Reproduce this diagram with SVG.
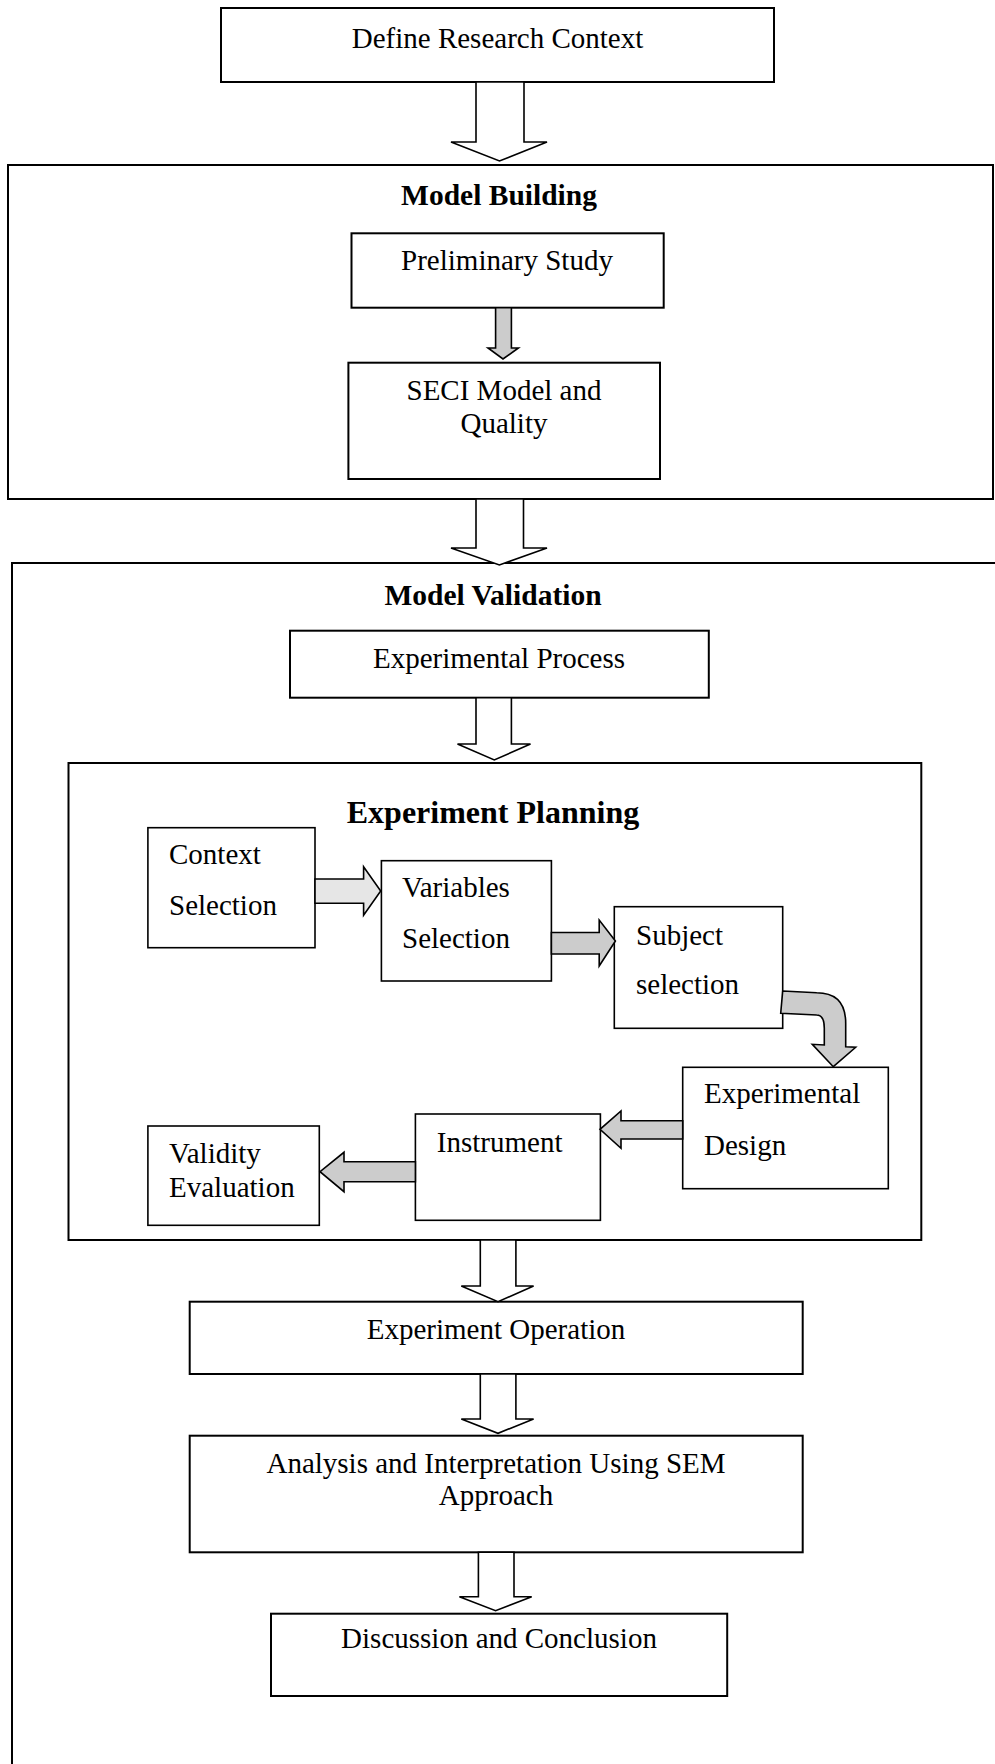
<svg xmlns="http://www.w3.org/2000/svg" width="995" height="1764" viewBox="0 0 995 1764">
  <style>
    .box { fill: #ffffff; stroke: #000000; stroke-width: 2; }
    .frame { fill: none; stroke: #000000; stroke-width: 2; }
    .sbox { fill: #ffffff; stroke: #000000; stroke-width: 1.6; }
    .txt { font-family: "Liberation Serif", "Times New Roman", serif; font-size: 29px; fill: #000000; }
    .mid { text-anchor: middle; }
    .title { font-family: "Liberation Serif", "Times New Roman", serif; font-weight: bold; font-size: 29.5px; fill: #000000; text-anchor: middle; }
    .big { font-size: 32px; }
    .hollow { fill: #ffffff; stroke: #000000; stroke-width: 1.6; stroke-linejoin: miter; }
    .grey { fill: #cccccc; stroke: #000000; stroke-width: 1.6; stroke-linejoin: miter; }
    .light { fill: #e6e6e6; stroke: #000000; stroke-width: 1.6; stroke-linejoin: miter; }
  </style>

  <rect width="995" height="1764" fill="#ffffff"/>

  <!-- Containers -->
  <g id="model-building">
    <rect class="frame" x="8" y="165" width="985" height="334"/>
    <text class="title" x="499" y="205">Model Building</text>
  </g>

  <g id="model-validation">
    <rect class="frame" x="12" y="563" width="1000" height="1260"/>
    <text class="title" x="493" y="605">Model Validation</text>
  </g>

  <g id="experiment-planning">
    <rect class="frame" x="68.5" y="763" width="852.8" height="477"/>
    <text class="title big" x="493" y="823">Experiment Planning</text>
  </g>

  <!-- Process steps -->
  <g id="define-research-context">
    <rect class="box" x="221" y="8" width="553" height="74"/>
    <text class="txt mid" x="497.5" y="48">Define Research Context</text>
  </g>

  <g id="preliminary-study">
    <rect class="box" x="351.5" y="233.3" width="312.2" height="74.4"/>
    <text class="txt mid" x="507" y="270">Preliminary Study</text>
  </g>

  <g id="seci-model">
    <rect class="box" x="348.4" y="362.7" width="311.6" height="116.3"/>
    <text class="txt mid" x="504" y="400">SECI Model and</text>
    <text class="txt mid" x="504" y="433.3">Quality</text>
  </g>

  <g id="experimental-process">
    <rect class="box" x="290" y="630.7" width="418.8" height="67"/>
    <text class="txt mid" x="499" y="668">Experimental Process</text>
  </g>

  <g id="context-selection">
    <rect class="sbox" x="147.9" y="827.7" width="167.1" height="120"/>
    <text class="txt" x="169" y="864.3">Context</text>
    <text class="txt" x="169" y="915.3">Selection</text>
  </g>

  <g id="variables-selection">
    <rect class="sbox" x="381.4" y="860.7" width="170" height="120.3"/>
    <text class="txt" x="402" y="897.3">Variables</text>
    <text class="txt" x="402" y="948.3">Selection</text>
  </g>

  <g id="subject-selection">
    <rect class="sbox" x="614.3" y="906.7" width="168.4" height="121.6"/>
    <text class="txt" x="636" y="945">Subject</text>
    <text class="txt" x="636" y="994.3">selection</text>
  </g>

  <g id="experimental-design">
    <rect class="sbox" x="682.7" y="1067.3" width="205.6" height="121.4"/>
    <text class="txt" x="704" y="1103.3">Experimental</text>
    <text class="txt" x="704" y="1155">Design</text>
  </g>

  <g id="instrument">
    <rect class="sbox" x="415.4" y="1114" width="185" height="106.3"/>
    <text class="txt" x="436.8" y="1151.7">Instrument</text>
  </g>

  <g id="validity-evaluation">
    <rect class="sbox" x="147.9" y="1126" width="171.4" height="99.3"/>
    <text class="txt" x="169" y="1163.3">Validity</text>
    <text class="txt" x="169" y="1197.3">Evaluation</text>
  </g>

  <g id="experiment-operation">
    <rect class="box" x="189.7" y="1301.7" width="613" height="72.3"/>
    <text class="txt mid" x="496" y="1339">Experiment Operation</text>
  </g>

  <g id="analysis-interpretation">
    <rect class="box" x="189.7" y="1435.7" width="613" height="116.6"/>
    <text class="txt mid" x="496" y="1472.7">Analysis and Interpretation Using SEM</text>
    <text class="txt mid" x="496" y="1505">Approach</text>
  </g>

  <g id="discussion-conclusion">
    <rect class="box" x="271" y="1613.7" width="456.2" height="82.3"/>
    <text class="txt mid" x="499" y="1648.3">Discussion and Conclusion</text>
  </g>

  <!-- Connectors: block arrows -->
  <g id="connectors">
    <!-- hollow downward block arrows between stages -->
    <polygon class="hollow" points="476,82 524,82 524,142 547,142 499.5,161 451,142 476,142"/>
    <polygon class="hollow" points="476,499 523.5,499 523.5,548 547,548 499.4,565 451,548 476,548"/>
    <polygon class="hollow" points="476,697.7 511.4,697.7 511.4,744 530.5,744 494.3,760 457.5,744 476,744"/>
    <polygon class="hollow" points="480.3,1240 515.9,1240 515.9,1286 533.6,1286 498,1301.7 461.3,1286 480.3,1286"/>
    <polygon class="hollow" points="480.3,1374 515.9,1374 515.9,1419 533.6,1419 498,1433.3 461.3,1419 480.3,1419"/>
    <polygon class="hollow" points="478.4,1552.3 514,1552.3 514,1596.7 531.7,1596.7 495.6,1610.7 459.4,1596.7 478.4,1596.7"/>

    <!-- preliminary study to SECI model -->
    <polygon class="grey" points="495.6,307.7 511.4,307.7 511.4,348 518.4,348 503,359 488,348 495.6,348"/>

    <!-- planning sequence -->
    <polygon class="light" points="315,879 363.6,879 363.6,866.7 380.7,891 363.6,915.3 363.6,903.3 315,903.3"/>
    <polygon class="grey" points="551.4,932.5 599.2,932.5 599.2,920 615.4,941 599.2,966 599.2,954 551.4,954"/>
    <path class="grey" d="M782.7,991 L816.7,992.7 Q845.7,992.7 845.7,1023.3 L845.7,1046.7 L855.7,1047.3 L833.3,1066.7 L812.3,1044.3 L824.3,1045 L824.3,1028.3 Q824.3,1015 816.7,1015 L780.7,1013.3 Z"/>
    <polygon class="grey" points="682.7,1120.7 621,1120.7 621,1111 600,1129.3 621,1148.3 621,1139 682.7,1139"/>
    <polygon class="grey" points="415.4,1161.7 344,1161.7 344,1152.3 320,1171.7 344,1191.7 344,1181.7 415.4,1181.7"/>
  </g>
</svg>
